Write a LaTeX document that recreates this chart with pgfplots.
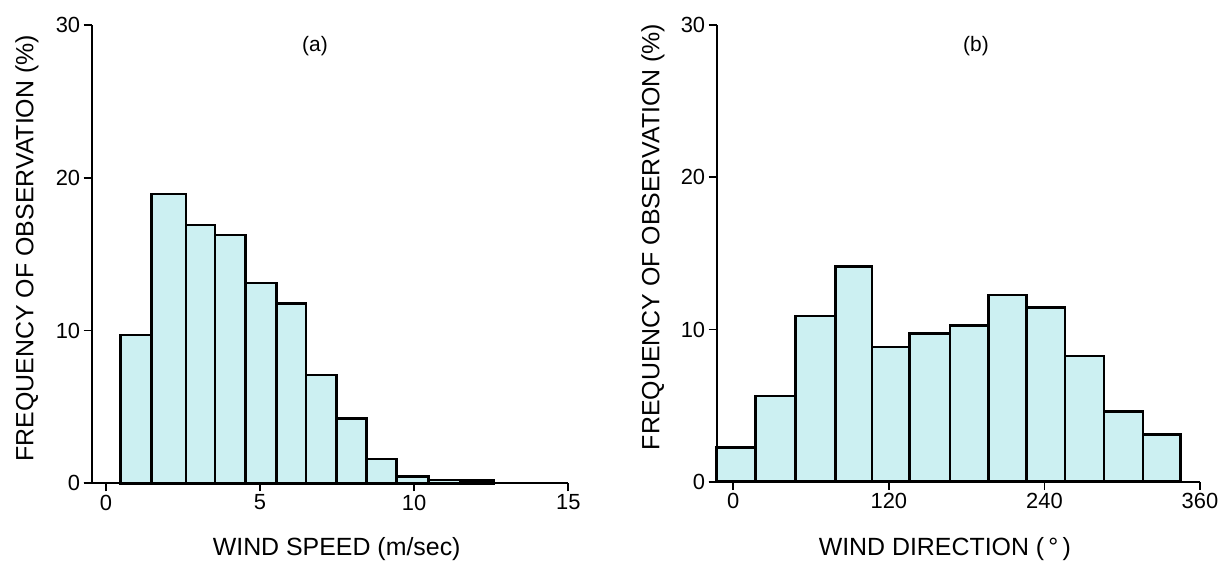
\documentclass[border=0pt]{standalone}
\usepackage{fontspec}
\setmainfont{Liberation Sans}
\usepackage{pgfplots}
\pgfplotsset{compat=1.18}
\definecolor{barfill}{RGB}{204,240,242}
\pgfplotsset{
  histo/.style={
    scale only axis,
    axis lines=left,
    axis line style={-, line width=2.2bp, black},
    x axis line style={shorten <=-8bp},
    tick align=outside,
    major tick length=8bp,
    tick style={line width=1.8bp, black},
    ymin=0, ymax=30,
    ytick={0,10,20,30},
    /pgf/number format/assume math mode=true,
    tick label style={font=\fontsize{22}{25}\selectfont},
    label style={font=\fontsize{25}{28}\selectfont},
    clip=false,
  },
  bars/.style={ybar interval, fill=barfill, draw=black, line width=2.6bp},
}
\begin{document}
\begin{tikzpicture}
\path[use as bounding box] (0,0) rectangle (1227bp,562bp);
% (a) wind speed
\begin{axis}[histo,
  at={(91.7bp,78.7bp)}, anchor=south west,
  width=476.6bp, height=458.3bp,
  xmin=-0.46, xmax=15,
  xtick={0,5,10,15},
  xlabel={WIND SPEED (m/sec)},
  ylabel={FREQUENCY OF OBSERVATION (\%)},
  xlabel style={at={(axis description cs:0.514,-0.143)}, anchor=center},
  ylabel style={at={(axis description cs:-0.136,0.513)}, anchor=center, rotate=0},
]
\addplot[bars] coordinates {
  (0.48,9.72) (1.48,18.95) (2.6,16.9) (3.54,16.25) (4.53,13.1) (5.54,11.75)
  (6.49,7.08) (7.49,4.25) (8.46,1.6) (9.42,0.45) (10.46,0.22) (11.5,0.18) (12.57,0.18)
};
\node[font=\fontsize{21}{24}\selectfont] at (axis description cs:0.4685,0.954) {(a)};
\end{axis}
% (b) wind direction
\begin{axis}[histo,
  at={(716.7bp,80.3bp)}, anchor=south west,
  width=483.3bp, height=456.7bp,
  xmin=-12.8, xmax=360,
  xtick={0,120,240,360},
  xlabel={WIND DIRECTION (\,°\,)},
  ylabel={FREQUENCY OF OBSERVATION (\%)},
  xlabel style={at={(axis description cs:0.472,-0.147)}, anchor=center},
  ylabel style={at={(axis description cs:-0.132,0.536)}, anchor=center, rotate=0},
]
\addplot[bars] coordinates {
  (-12.8,2.23) (17,5.64) (48,10.88) (79,14.14) (107,8.86) (136,9.75)
  (167,10.27) (197,12.26) (226,11.44) (256,8.27) (286,4.63) (316,3.10) (345,3.10)
};
\node[font=\fontsize{21}{24}\selectfont] at (axis description cs:0.5365,0.954) {(b)};
\end{axis}
\end{tikzpicture}
\end{document}
